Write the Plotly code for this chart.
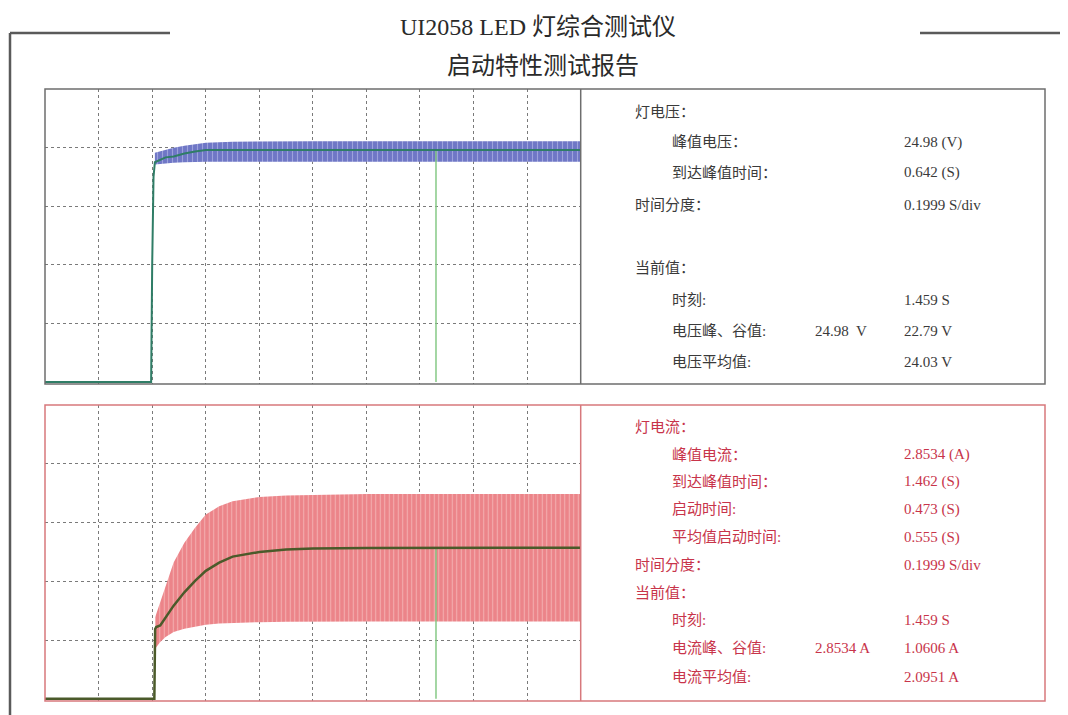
import plotly.graph_objects as go

# page body has an 8 px margin: the figure is placed at (8, 8) in the window
WIN_W, WIN_H = 1068, 715
OFF = 8
W, H = WIN_W - OFF, WIN_H - OFF

# ---------------- data ----------------
TIME_DIV = 0.1999          # s/div
N_XDIV = 10
V_DIV = 6.0                # V/div
I_DIV = 0.816              # A/div
CURSOR_T = 1.459           # s

# lamp voltage: mean trace
v_mean_t = [0.0, 0.396, 0.400, 0.405, 0.41, 0.45, 0.48, 0.52, 0.56, 0.60, 0.70, 1.0, 1.5, 1.999]
v_mean   = [0.0, 0.0,   12.0,  21.0,  22.5, 23.0, 23.1, 23.4, 23.6, 23.75, 23.75, 23.75, 23.75, 23.75]
# lamp voltage: ripple envelope
v_env_t  = [0.41, 0.45, 0.48, 0.52, 0.56, 0.60, 0.70, 1.0, 1.5, 1.999]
v_peak   = [23.47, 23.8, 23.98, 24.2, 24.31, 24.49, 24.6, 24.65, 24.65, 24.65]
v_valley = [22.28, 22.4, 22.45, 22.5, 22.55, 22.55, 22.55, 22.55, 22.55, 22.55]

# lamp current: mean trace
i_mean_t = [0.0, 0.408, 0.411, 0.415, 0.43, 0.45, 0.48, 0.52, 0.56, 0.60, 0.65, 0.70, 0.80, 0.90, 1.0, 1.2, 1.5, 1.999]
i_mean   = [0.0, 0.0,   0.97,  0.996, 1.018, 1.134, 1.294, 1.479, 1.639, 1.777, 1.892, 1.975, 2.039, 2.072, 2.086, 2.094, 2.099, 2.099]
# lamp current: ripple envelope
i_env_t  = [0.411, 0.43, 0.45, 0.48, 0.52, 0.56, 0.60, 0.65, 0.70, 0.80, 0.90, 1.0, 1.2, 1.5, 1.999]
i_peak   = [1.134, 1.341, 1.570, 1.892, 2.168, 2.375, 2.559, 2.673, 2.742, 2.803, 2.825, 2.834, 2.844, 2.844, 2.844]
i_valley = [0.697, 0.789, 0.858, 0.927, 0.972, 1.004, 1.028, 1.046, 1.055, 1.065, 1.070, 1.073, 1.073, 1.073, 1.073]

TITLE_1 = "UI2058 LED 灯综合测试仪"
TITLE_2 = "启动特性测试报告"

v_labels = ["灯电压：", "峰值电压：", "到达峰值时间：", "时间分度：", "当前值：", "时刻:", "电压峰、谷值:", "电压平均值:"]
v_values = ["", "24.98 (V)", "0.642 (S)", "0.1999 S/div", "", "1.459 S", "22.79 V", "24.03 V"]
v_mid    = ["", "", "", "", "", "", "24.98  V", ""]

i_labels = ["灯电流：", "峰值电流：", "到达峰值时间：", "启动时间:", "平均值启动时间:", "时间分度：", "当前值：", "时刻:", "电流峰、谷值:", "电流平均值:"]
i_values = ["", "2.8534 (A)", "1.462 (S)", "0.473 (S)", "0.555 (S)", "0.1999 S/div", "", "1.459 S", "1.0606 A", "2.0951 A"]
i_mid    = ["", "", "", "", "", "", "", "", "2.8534 A", ""]

# ---------------- layout helpers (window pixel -> paper) ----------------
def px(x):
    return (x - OFF) / W

def py(y):
    return 1 - (y - OFF) / H

PLOT_L, PLOT_R, BOX_R = 45, 580.7, 1045
TOP_T, TOP_B = 89, 384
BOT_T, BOT_B = 405, 701

v_rows_y = [112, 142, 173, 205, 268, 300, 331, 362]
v_indent = [0, 1, 1, 0, 0, 1, 1, 1]
i_rows_y = [427, 455, 482, 509, 537, 565, 593, 620, 648, 677]
i_indent = [0, 1, 1, 1, 1, 0, 0, 1, 1, 1]

FONT = "Liberation Serif, 'Noto Sans CJK SC', serif"
GREY_TXT = "#3a3a3a"
RED_TXT = "#c8344a"
BLUE_BAND = "#6f77c6"
RED_BAND = "#ec8489"

fig = go.Figure()

# ---- voltage panel ----
fig.add_trace(go.Scatter(x=v_env_t, y=v_valley, mode="lines", line=dict(width=0, color=BLUE_BAND),
                         xaxis="x", yaxis="y", showlegend=False, hoverinfo="skip"))
fig.add_trace(go.Scatter(x=v_env_t, y=v_peak, mode="lines", line=dict(width=0, color=BLUE_BAND),
                         fill="tonexty",
                         fillpattern=dict(shape="|", bgcolor=BLUE_BAND, fgcolor="#c9cdf0", size=5, solidity=0.22),
                         xaxis="x", yaxis="y", showlegend=False, hoverinfo="skip"))
fig.add_trace(go.Scatter(x=[CURSOR_T, CURSOR_T], y=[0, v_mean[-1]], mode="lines",
                         line=dict(width=1.5, color="#86c986"), xaxis="x", yaxis="y",
                         showlegend=False, hoverinfo="skip"))
fig.add_trace(go.Scatter(x=v_mean_t, y=v_mean, mode="lines", line=dict(width=2, color="#2f7d66"),
                         xaxis="x", yaxis="y", showlegend=False))

# ---- current panel ----
fig.add_trace(go.Scatter(x=i_env_t, y=i_valley, mode="lines", line=dict(width=0, color=RED_BAND),
                         xaxis="x2", yaxis="y2", showlegend=False, hoverinfo="skip"))
fig.add_trace(go.Scatter(x=i_env_t, y=i_peak, mode="lines", line=dict(width=0, color=RED_BAND),
                         fill="tonexty",
                         fillpattern=dict(shape="|", bgcolor=RED_BAND, fgcolor="#fbdcdc", size=4.5, solidity=0.22),
                         xaxis="x2", yaxis="y2", showlegend=False, hoverinfo="skip"))
fig.add_trace(go.Scatter(x=[CURSOR_T, CURSOR_T], y=[0, i_mean[-1]], mode="lines",
                         line=dict(width=1.5, color="#86c986"), xaxis="x2", yaxis="y2",
                         showlegend=False, hoverinfo="skip"))
fig.add_trace(go.Scatter(x=i_mean_t, y=i_mean, mode="lines", line=dict(width=2.5, color="#4b5a2a"),
                         xaxis="x2", yaxis="y2", showlegend=False))

x_ticks = [TIME_DIV * k for k in range(1, N_XDIV)]
x_range = [0, TIME_DIV * N_XDIV]

grid_common = dict(showgrid=True, griddash="dot", gridcolor="#7a7a7a", gridwidth=1,
                   showticklabels=False, ticks="", zeroline=False, showline=False, fixedrange=True)

fig.update_layout(
    width=W, height=H,
    margin=dict(l=0, r=0, t=0, b=0),
    paper_bgcolor="white", plot_bgcolor="white",
    xaxis=dict(domain=[px(PLOT_L), px(PLOT_R)], range=x_range, tickvals=x_ticks, anchor="y", **grid_common),
    yaxis=dict(domain=[py(TOP_B), py(TOP_T)], range=[-0.2, 5 * V_DIV],
               tickvals=[V_DIV * k for k in range(1, 5)], anchor="x", **grid_common),
    xaxis2=dict(domain=[px(PLOT_L), px(PLOT_R)], range=x_range, tickvals=x_ticks, anchor="y2", **grid_common),
    yaxis2=dict(domain=[py(BOT_B), py(BOT_T)], range=[-0.03, 5 * I_DIV],
                tickvals=[I_DIV * k for k in range(1, 5)], anchor="x2", **grid_common),
)

shapes = []
# outer report frame
frame = dict(type="line", xref="paper", yref="paper", line=dict(color="#5a5a5a", width=2.5))
shapes.append({**frame, "x0": px(10), "y0": py(33), "x1": px(170), "y1": py(33)})
shapes.append({**frame, "x0": px(10), "y0": py(33), "x1": px(10), "y1": py(715)})
shapes.append({**frame, "x0": px(920), "y0": py(33), "x1": px(1068), "y1": py(33)})
# panel boxes
for (t, b, col) in [(TOP_T, TOP_B, "#6e6e6e"), (BOT_T, BOT_B, "#d7787c")]:
    shapes.append(dict(type="rect", xref="paper", yref="paper", x0=px(PLOT_L), x1=px(BOX_R),
                       y0=py(b), y1=py(t), line=dict(color=col, width=1.5), layer="above"))
    shapes.append(dict(type="line", xref="paper", yref="paper", x0=px(PLOT_R), x1=px(PLOT_R),
                       y0=py(b), y1=py(t), line=dict(color=col, width=1.5), layer="above"))
fig.update_layout(shapes=shapes)

ann = []
ann.append(dict(text=TITLE_1, x=px(538), y=py(27), xref="paper", yref="paper", showarrow=False,
                xanchor="center", yanchor="middle", font=dict(family=FONT, size=24, color="#2a2a2a")))
ann.append(dict(text=TITLE_2, x=px(543), y=py(66), xref="paper", yref="paper", showarrow=False,
                xanchor="center", yanchor="middle", font=dict(family=FONT, size=24, color="#2a2a2a")))

def add_rows(labels, values, mids, rows_y, indent, color):
    for lab, val, mid, yy, ind in zip(labels, values, mids, rows_y, indent):
        xs = 633 if ind == 0 else 670
        common = dict(xref="paper", yref="paper", showarrow=False, xanchor="left", yanchor="middle",
                      font=dict(family=FONT, size=15, color=color))
        ann.append(dict(text=lab, x=px(xs), y=py(yy), **common))
        if val:
            ann.append(dict(text=val, x=px(902), y=py(yy), **common))
        if mid:
            ann.append(dict(text=mid, x=px(813), y=py(yy), **common))

add_rows(v_labels, v_values, v_mid, v_rows_y, v_indent, GREY_TXT)
add_rows(i_labels, i_values, i_mid, i_rows_y, i_indent, RED_TXT)
fig.update_layout(annotations=ann)

fig.write_html("out.html")
